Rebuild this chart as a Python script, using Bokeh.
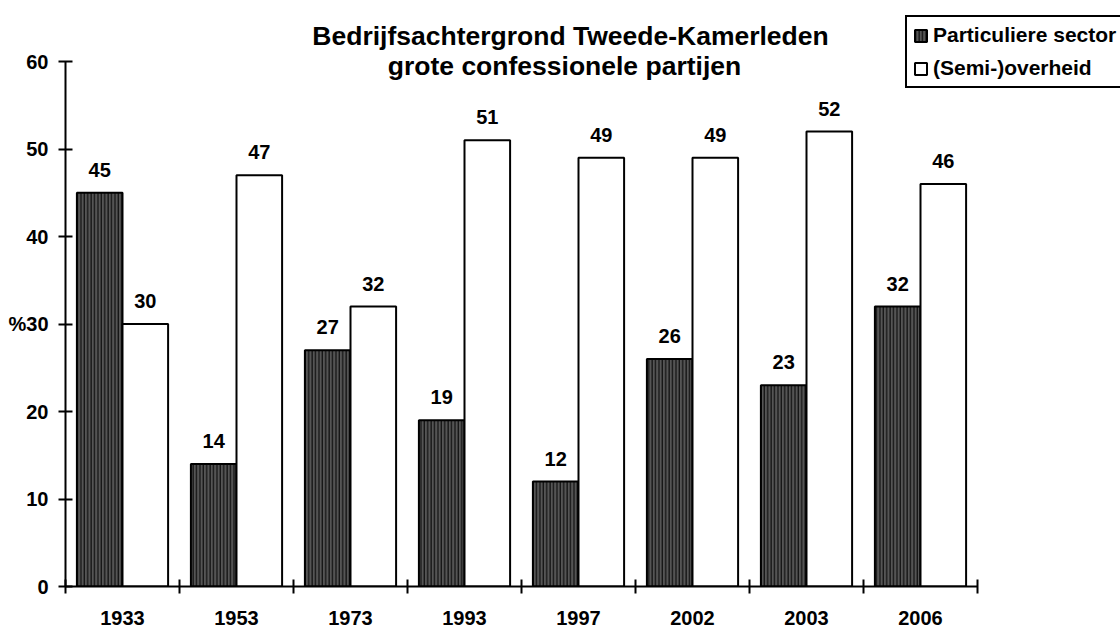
import numpy as np
from bokeh.plotting import figure
from bokeh.models import (ColumnDataSource, Range1d, FixedTicker, LabelSet, Label,
                          Legend, LegendItem)
from bokeh.core.properties import value
from bokeh.transform import dodge
from bokeh.embed import file_html
from bokeh.resources import INLINE

years = ["1933", "1953", "1973", "1993", "1997", "2002", "2003", "2006"]
particuliere = [45, 14, 27, 19, 12, 26, 23, 32]
overheid = [30, 47, 32, 51, 49, 49, 52, 46]
y_ticks = [0, 10, 20, 30, 40, 50, 60]
y_unit_tick = 30
y_unit = "%"
title_lines = ["Bedrijfsachtergrond Tweede-Kamerleden", "grote confessionele partijen"]
series_names = ["Particuliere sector", "(Semi-)overheid"]

FONT = "Liberation Sans"

# layout geometry (pixels)
W, H = 1120, 628
LEFT, BOTTOM = 65, 42
PX_PER_CAT = 114.0
PX_PER_UNIT = 8.75
y_max_vis = (H - BOTTOM) / PX_PER_UNIT
x_max_vis = (W - LEFT) / PX_PER_CAT

pos = np.arange(len(years)) + 0.5
src = ColumnDataSource(dict(
    x=pos, part=particuliere, over=overheid,
    part_txt=[str(v) for v in particuliere],
    over_txt=[str(v) for v in overheid],
))

p = figure(width=W, height=H, output_backend="svg", toolbar_location=None,
           x_range=Range1d(0, x_max_vis), y_range=Range1d(0, y_max_vis),
           min_border_left=LEFT, min_border_right=0, min_border_top=0,
           min_border_bottom=BOTTOM)
p.outline_line_color = None
p.xgrid.visible = False
p.ygrid.visible = False
p.background_fill_color = "white"
p.border_fill_color = "white"

r1 = p.vbar(x=dodge("x", -0.2), top="part", width=0.4, source=src,
            fill_color="#555555", line_color="black", line_width=2,
            hatch_pattern="vertical_line", hatch_color="black",
            hatch_scale=3.4, hatch_weight=1)
r2 = p.vbar(x=dodge("x", 0.2), top="over", width=0.4, source=src,
            fill_color="white", line_color="black", line_width=2)

lbl_common = dict(text_font=value(FONT), text_font_style="bold", text_font_size="20px",
                  text_align="center", text_baseline="alphabetic", y_offset=16,
                  text_color="black")
p.add_layout(LabelSet(x=dodge("x", -0.2), y="part", text="part_txt", source=src, **lbl_common))
p.add_layout(LabelSet(x=dodge("x", 0.2), y="over", text="over_txt", source=src, **lbl_common))

# x axis: labels at centres, ticks at category boundaries
xa = p.xaxis[0]
xa.bounds = (0, len(years))
xa.ticker = FixedTicker(ticks=list(pos), minor_ticks=list(range(len(years) + 1)))
xa.major_label_overrides = {float(v): y for v, y in zip(pos, years)}
xa.major_tick_line_color = None
xa.major_tick_in = 0
xa.major_tick_out = 0
xa.minor_tick_in = 7
xa.minor_tick_out = 7
xa.minor_tick_line_color = "black"
xa.minor_tick_line_width = 2
xa.axis_line_width = 2
xa.axis_line_color = "black"
xa.major_label_standoff = 17
xa.major_label_text_font = FONT
xa.major_label_text_font_style = "bold"
xa.major_label_text_font_size = "20px"
xa.major_label_text_color = "black"

ya = p.yaxis[0]
ya.bounds = (0, 60)
ya.ticker = FixedTicker(ticks=y_ticks, minor_ticks=[])
ya.major_label_overrides = {y_unit_tick: y_unit + str(y_unit_tick)}
ya.major_tick_in = 7
ya.major_tick_out = 7
ya.major_tick_line_width = 2
ya.major_tick_line_color = "black"
ya.axis_line_width = 2
ya.axis_line_color = "black"
ya.major_label_standoff = 10
ya.major_label_text_font = FONT
ya.major_label_text_font_style = "bold"
ya.major_label_text_font_size = "20px"
ya.major_label_text_color = "black"

# title as two centred text lines
for txt, xx, yy in zip(title_lines, [4.43, 4.377], [62.97, 59.43]):
    p.add_layout(Label(x=xx, y=yy, text=txt, text_font=FONT, text_font_style="bold",
                       text_font_size="26.5px", text_align="center",
                       text_baseline="alphabetic", text_color="black"))

legend = Legend(items=[LegendItem(label=series_names[0], renderers=[r1]),
                       LegendItem(label=series_names[1], renderers=[r2])],
                location=(840, 498), orientation="vertical",
                glyph_width=15, glyph_height=15, label_height=15, label_width=10,
                spacing=9, padding=6, margin=0, label_standoff=5,
                label_text_font=FONT, label_text_font_style="bold",
                label_text_font_size="21px", label_text_color="black",
                border_line_color="black", border_line_width=2, border_line_alpha=1,
                background_fill_color="white", background_fill_alpha=1)
p.add_layout(legend, "center")

open("out.html", "w").write(file_html(p, INLINE))
